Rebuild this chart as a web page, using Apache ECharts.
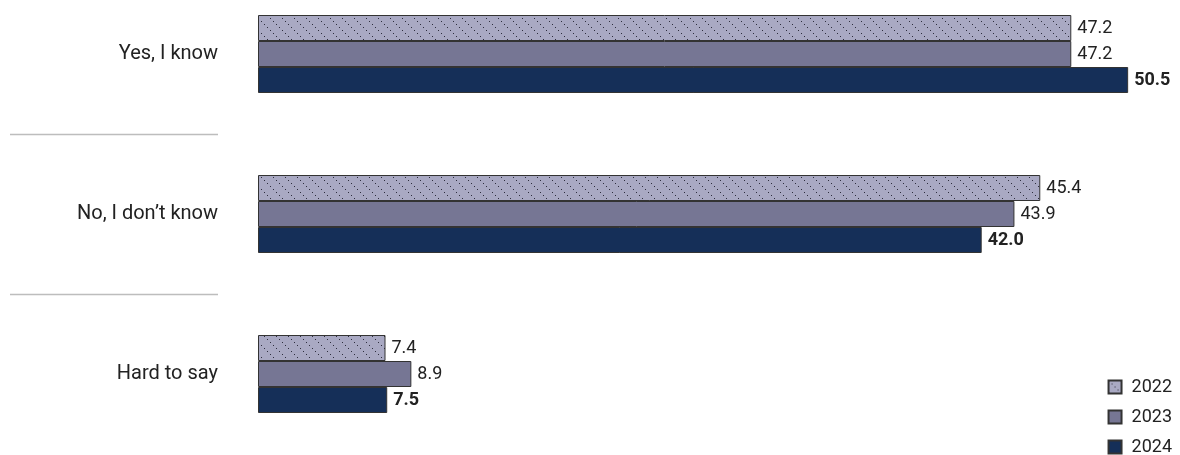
<!DOCTYPE html>
<html>
<head>
<meta charset="utf-8">
<script src="https://cdn.jsdelivr.net/npm/echarts@6/dist/echarts.min.js"></script>
<style>
html,body{margin:0;padding:0;background:#fff;}
#main{width:1180px;height:455px;}
</style>
</head>
<body>
<div id="main"></div>
<script>
const categories = ['Yes, I know', 'No, I don\u2019t know', 'Hard to say'];
const seriesNames = ['2022', '2023', '2024'];
const values2022 = [47.2, 45.4, 7.4];
const values2023 = [47.2, 43.9, 8.9];
const values2024 = [50.5, 42.0, 7.5];

function makePattern() {
  const c = document.createElement('canvas');
  c.width = 12; c.height = 12;
  const ctx = c.getContext('2d');
  ctx.fillStyle = '#a9a9c3';
  ctx.fillRect(0, 0, 12, 12);
  ctx.fillStyle = '#2e2e3e';
  for (let i = 0; i < 12; i += 3) {
    ctx.fillRect(i, i, 1, 1);
  }
  return c;
}
const patternColor = { image: makePattern(), repeat: 'repeat' };

const FONT = 'Roboto';
const chart = echarts.init(document.getElementById('main'), null, { renderer: 'canvas' });

const fills = [patternColor, '#767694', '#152f58'];
const data = [values2022, values2023, values2024];

const series = seriesNames.map((name, i) => ({
  name: name,
  type: 'bar',
  data: data[i],
  barWidth: 26,
  barGap: '0%',
  itemStyle: { color: fills[i], borderColor: '#333', borderWidth: 1 },
  label: {
    show: true,
    position: 'right',
    distance: 6,
    fontFamily: FONT,
    fontSize: 18,
    color: '#222',
    fontWeight: i === 2 ? 'bold' : 'normal',
    formatter: p => p.value.toFixed(1)
  }
}));

chart.setOption({
  animation: false,
  backgroundColor: '#fff',
  grid: { left: 258, right: 26, top: -26, bottom: 1, containLabel: false, outerBoundsMode: 'none' },
  xAxis: { type: 'value', min: 0, max: 52, show: false },
  yAxis: {
    type: 'category',
    data: categories,
    inverse: true,
    axisLine: { show: false },
    axisTick: { show: false },
    axisLabel: { margin: 40, fontFamily: FONT, fontSize: 20, color: '#222' }
  },
  legend: {
    orient: 'vertical',
    right: 3,
    bottom: -6,
    itemWidth: 13,
    itemHeight: 13,
    itemGap: 12,
    icon: 'rect',
    textStyle: { fontFamily: FONT, fontSize: 18, color: '#222', padding: [0, 0, 0, 5] },
    data: seriesNames
  },
  series: series
});

// separators between category bands on the left
const centers = categories.map(c => chart.convertToPixel({ yAxisIndex: 0 }, c));
const graphics = [];
for (let i = 0; i < centers.length - 1; i++) {
  const y = Math.round((centers[i] + centers[i + 1]) / 2) + 0.5;
  graphics.push({
    type: 'line',
    shape: { x1: 10, y1: y, x2: 218, y2: y },
    style: { stroke: '#bdbdbd', lineWidth: 1.5 }
  });
}
chart.setOption({ graphic: graphics });
</script>
</body>
</html>
